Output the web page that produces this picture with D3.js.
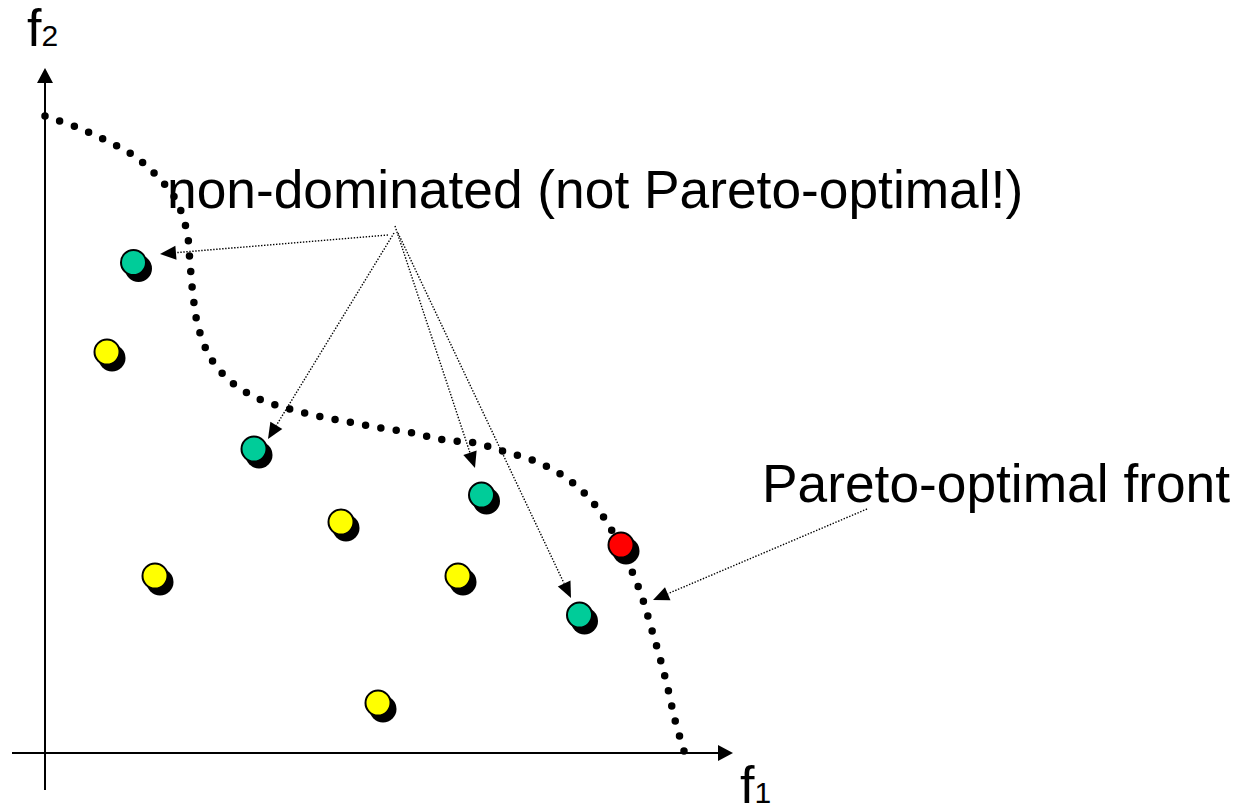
<!DOCTYPE html>
<html><head><meta charset="utf-8">
<script src="https://cdn.jsdelivr.net/npm/d3@7"></script>
<style>html,body{margin:0;padding:0;background:#fff;}svg{display:block;}</style>
</head><body>
<script>
// Pareto-optimal front (f1, f2)
const frontF1 = [0, 3.1, 6.0, 8.8, 11.2, 13.1, 14.2, 14.5, 14.8, 15.3, 16.5, 18.5, 21.2, 24.1, 27.2, 30.4, 33.6, 36.8, 39.9, 43.0, 46.1, 49.2, 52.0, 54.4, 56.3, 58.5, 59.7, 60.6, 61.5, 62.3, 63.0, 63.9];
const frontF2 = [63.7, 62.6, 61.3, 59.8, 57.7, 55.3, 52.1, 49.0, 45.8, 42.7, 39.6, 37.2, 35.5, 34.5, 33.7, 33.1, 32.5, 32.0, 31.3, 31.0, 30.1, 29.1, 27.6, 25.5, 22.9, 18.6, 15.6, 12.6, 9.5, 6.4, 3.3, 0.2];
// solutions
const pointF1 = [6.2, 11.0, 29.6, 41.3, 33.3, 8.85, 20.9, 43.65, 53.45, 57.6];
const pointF2 = [40.1, 17.7, 23.1, 17.7, 5.0, 49.05, 30.4, 25.8, 13.8, 20.8];
const pointType = ["dominated","dominated","dominated","dominated","dominated","nondominated","nondominated","nondominated","nondominated","optimal"];
// annotation arrows
const arrowFromF1 = [34.3, 34.9, 35.0, 35.3, 82.2];
const arrowFromF2 = [51.8, 52.0, 52.7, 52.0, 24.4];
const arrowToF1 = [11.5, 22.3, 43.0, 52.6, 60.8];
const arrowToF2 = [49.9, 31.4, 28.5, 15.5, 15.3];
const labels = ["non-dominated (not Pareto-optimal!)", "Pareto-optimal front"];
const labelF1 = [12.2, 71.7];
const labelF2 = [54.5, 25.1];
const axisExtentF1 = [-3.3, 68.8];
const axisExtentF2 = [-3.7, 68.5];

const W = 1237, H = 807;
const x = d3.scaleLinear().domain([0, 69]).range([45, 735]);
const y = d3.scaleLinear().domain([0, 68.3]).range([753, 70]);
const colors = {dominated: "#ffff00", nondominated: "#00cc99", optimal: "#ff0000"};
const font = "'Liberation Sans', Arial, Helvetica, sans-serif";

const svg = d3.select("body").append("svg").attr("width", W).attr("height", H);

function arrowHead(g, x1, y1, x2, y2, len, hw) {
  const a = Math.atan2(y2 - y1, x2 - x1);
  const bx = x2 - len * Math.cos(a), by = y2 - len * Math.sin(a);
  const px = -Math.sin(a) * hw, py = Math.cos(a) * hw;
  g.append("path").attr("d", `M${x2},${y2}L${bx + px},${by + py}L${bx - px},${by - py}Z`).attr("fill", "#000");
  return [bx, by];
}

// axes
const axes = svg.append("g");
{
  const x0 = x(axisExtentF1[0]), x1 = x(axisExtentF1[1]), yb = y(0);
  const b = arrowHead(axes, x0, yb, x1, yb, 15, 8);
  axes.append("line").attr("x1", x0).attr("y1", yb).attr("x2", b[0]).attr("y2", yb).attr("stroke", "#000").attr("stroke-width", 2);
  const y0 = y(axisExtentF2[0]), y1 = y(axisExtentF2[1]), xl = x(0);
  const b2 = arrowHead(axes, xl, y0, xl, y1, 15, 8);
  axes.append("line").attr("x1", xl).attr("y1", y0).attr("x2", xl).attr("y2", b2[1]).attr("stroke", "#000").attr("stroke-width", 2);
}
// axis labels
const f2 = svg.append("text").attr("x", 27).attr("y", 46).attr("font-family", font).attr("font-size", 52).attr("fill", "#000");
f2.append("tspan").text("f");
f2.append("tspan").attr("font-size", 30).text("2");
const f1 = svg.append("text").attr("x", 740).attr("y", 803).attr("font-family", font).attr("font-size", 52).attr("fill", "#000");
f1.append("tspan").text("f");
f1.append("tspan").attr("font-size", 30).text("1");

// labels
svg.selectAll("text.lbl").data(labels).enter().append("text").attr("class", "lbl")
  .attr("x", (d, i) => x(labelF1[i])).attr("y", (d, i) => y(labelF2[i]))
  .attr("font-family", font).attr("font-size", 53.3).attr("fill", "#000").text(d => d);

// front (dotted)
const front = frontF1.map((v, i) => [v, frontF2[i]]);
const line = d3.line().x(d => x(d[0])).y(d => y(d[1])).curve(d3.curveCatmullRom.alpha(0.5));
const fp = svg.append("path").attr("d", line(front)).attr("fill", "none").attr("stroke", "#000")
  .attr("stroke-width", 7.5).attr("stroke-linecap", "round");
const L = fp.node().getTotalLength();
const n = Math.round(L / 15.6);
const gap = (L - 0.5) / n;
fp.attr("stroke-dasharray", `0 ${gap}`);

// arrows
const ag = svg.append("g");
arrowFromF1.forEach((v, i) => {
  const sx = x(v), sy = y(arrowFromF2[i]), tx = x(arrowToF1[i]), ty = y(arrowToF2[i]);
  const b = arrowHead(ag, sx, sy, tx, ty, 16, 7);
  ag.append("line").attr("x1", sx).attr("y1", sy).attr("x2", b[0]).attr("y2", b[1])
    .attr("stroke", "#000").attr("stroke-width", 1.4).attr("stroke-dasharray", "1.4 1.6");
});

// points
const pts = pointF1.map((v, i) => ({f1: v, f2: pointF2[i], t: pointType[i]}));
const pg = svg.append("g");
pg.selectAll("circle.sh").data(pts).enter().append("circle").attr("class", "sh")
  .attr("cx", d => x(d.f1) + 5).attr("cy", d => y(d.f2) + 6).attr("r", 13.5).attr("fill", "#000");
pg.selectAll("circle.pt").data(pts).enter().append("circle").attr("class", "pt")
  .attr("cx", d => x(d.f1)).attr("cy", d => y(d.f2)).attr("r", 12.5)
  .attr("fill", d => colors[d.t]).attr("stroke", "#000").attr("stroke-width", 2);
</script>
</body></html>
